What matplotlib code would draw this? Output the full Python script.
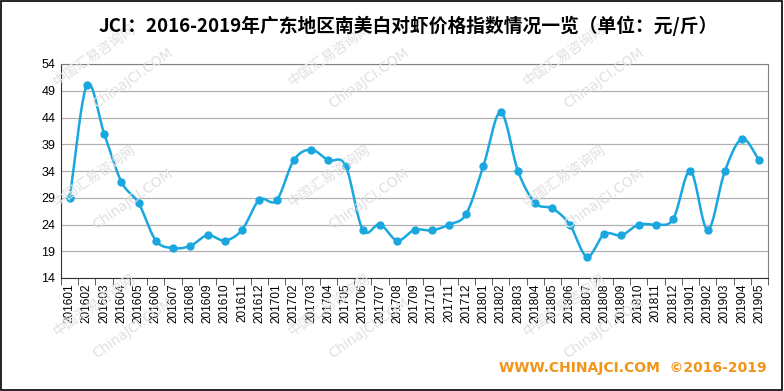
import numpy as np
import matplotlib
matplotlib.use("Agg")
import matplotlib.pyplot as plt

months = [f"{y}{m:02d}" for y in (2016, 2017, 2018) for m in range(1, 13)] + \
         [f"2019{m:02d}" for m in range(1, 6)]
values = [29, 50, 41, 32, 28, 21, 19.6, 20, 22, 21, 23, 28.6,
          28.5, 36, 38, 36, 35, 23, 24, 21, 23, 22.9, 24, 26,
          35, 45, 34, 28, 27, 24, 18, 22.2, 22, 24, 24, 25,
          34, 23, 34, 40, 36]
yticks = list(range(14, 55, 5))
title = "JCI：2016-2019年广东地区南美白对虾价格指数情况一览（单位：元/斤）"
footer = "WWW.CHINAJCI.COM  ©2016-2019"

plt.rcParams['font.family'] = ['Noto Sans CJK SC', 'DejaVu Sans']

fig = plt.figure(figsize=(7.84, 3.91), dpi=100)
ax = fig.add_axes([61/784, 1-278/391, (768-61)/784, (278-64)/391])

x = np.arange(len(values))
y = np.array(values, dtype=float)

# Catmull-Rom smoothing for drawing the line through the data points
def catmull(xp, yp, n=20):
    px = np.concatenate([[2*xp[0]-xp[1]], xp, [2*xp[-1]-xp[-2]]])
    py = np.concatenate([[2*yp[0]-yp[1]], yp, [2*yp[-1]-yp[-2]]])
    xs, ys = [], []
    for i in range(1, len(px)-2):
        t = np.linspace(0, 1, n, endpoint=False)
        for arr, out in ((px, xs), (py, ys)):
            p0, p1, p2, p3 = arr[i-1], arr[i], arr[i+1], arr[i+2]
            out.extend(0.5*((2*p1) + (-p0+p2)*t + (2*p0-5*p1+4*p2-p3)*t**2 + (-p0+3*p1-3*p2+p3)*t**3))
    xs.append(xp[-1]); ys.append(yp[-1])
    return np.array(xs), np.array(ys)

sx, sy = catmull(x, y)

# watermarks
for wx, wy in [(0.12, 0.86), (0.42, 0.86), (0.72, 0.86), (0.12, 0.55), (0.42, 0.55), (0.72, 0.55),
               (0.12, 0.22), (0.42, 0.22), (0.72, 0.22)]:
    fig.text(wx, wy, "中国汇易咨询网", rotation=35, color='#e0e0e0', fontsize=10,
             ha='center', va='center', zorder=0)
    fig.text(wx + 0.05, wy - 0.06, "ChinaJCI.COM", rotation=35, color='#e0e0e0', fontsize=10,
             ha='center', va='center', zorder=0, family=['DejaVu Sans'])

ax.set_facecolor('none')
ax.plot(sx, sy, color='#1aa7e0', lw=1.8, zorder=3)
ax.plot(x, y, 'o', color='#1aa7e0', ms=5, zorder=4)

ax.set_xlim(-0.5, len(values)-0.5)
ax.set_ylim(14, 54)
ax.set_yticks(yticks)
ax.set_yticklabels([str(t) for t in yticks], fontsize=9, family=['Liberation Sans'])
ax.yaxis.grid(True, color='#b0b0b0', lw=0.9)
ax.set_axisbelow(True)
ax.set_xticks(x)
ax.set_xticklabels(months, rotation=90, fontsize=8.5, family=['Liberation Sans'])
ax.set_xticks(np.arange(-0.5, len(values), 1), minor=True)
ax.tick_params(axis='x', which='major', length=0, pad=4)
ax.tick_params(axis='x', which='minor', length=5, color='#444444', direction='out')
ax.tick_params(axis='y', length=0, pad=4)
for s in ax.spines.values():
    s.set_color('#808080')
ax.spines['left'].set_color('#333333')
ax.spines['bottom'].set_color('#333333')

fig.text(408/784, 1-26/391, title, ha='center', va='center', fontsize=13.5, fontweight='bold')
fig.text(767/784, 1-368/391, footer, ha='right', va='center', fontsize=10, fontweight='bold',
         color='#f29418', family=['DejaVu Sans'])

border = plt.Rectangle((0.001, 0.002), 0.997, 0.995, transform=fig.transFigure, fill=False,
                       edgecolor='black', lw=1.2)
fig.patches.append(border)

fig.savefig("out.png", dpi=100)
